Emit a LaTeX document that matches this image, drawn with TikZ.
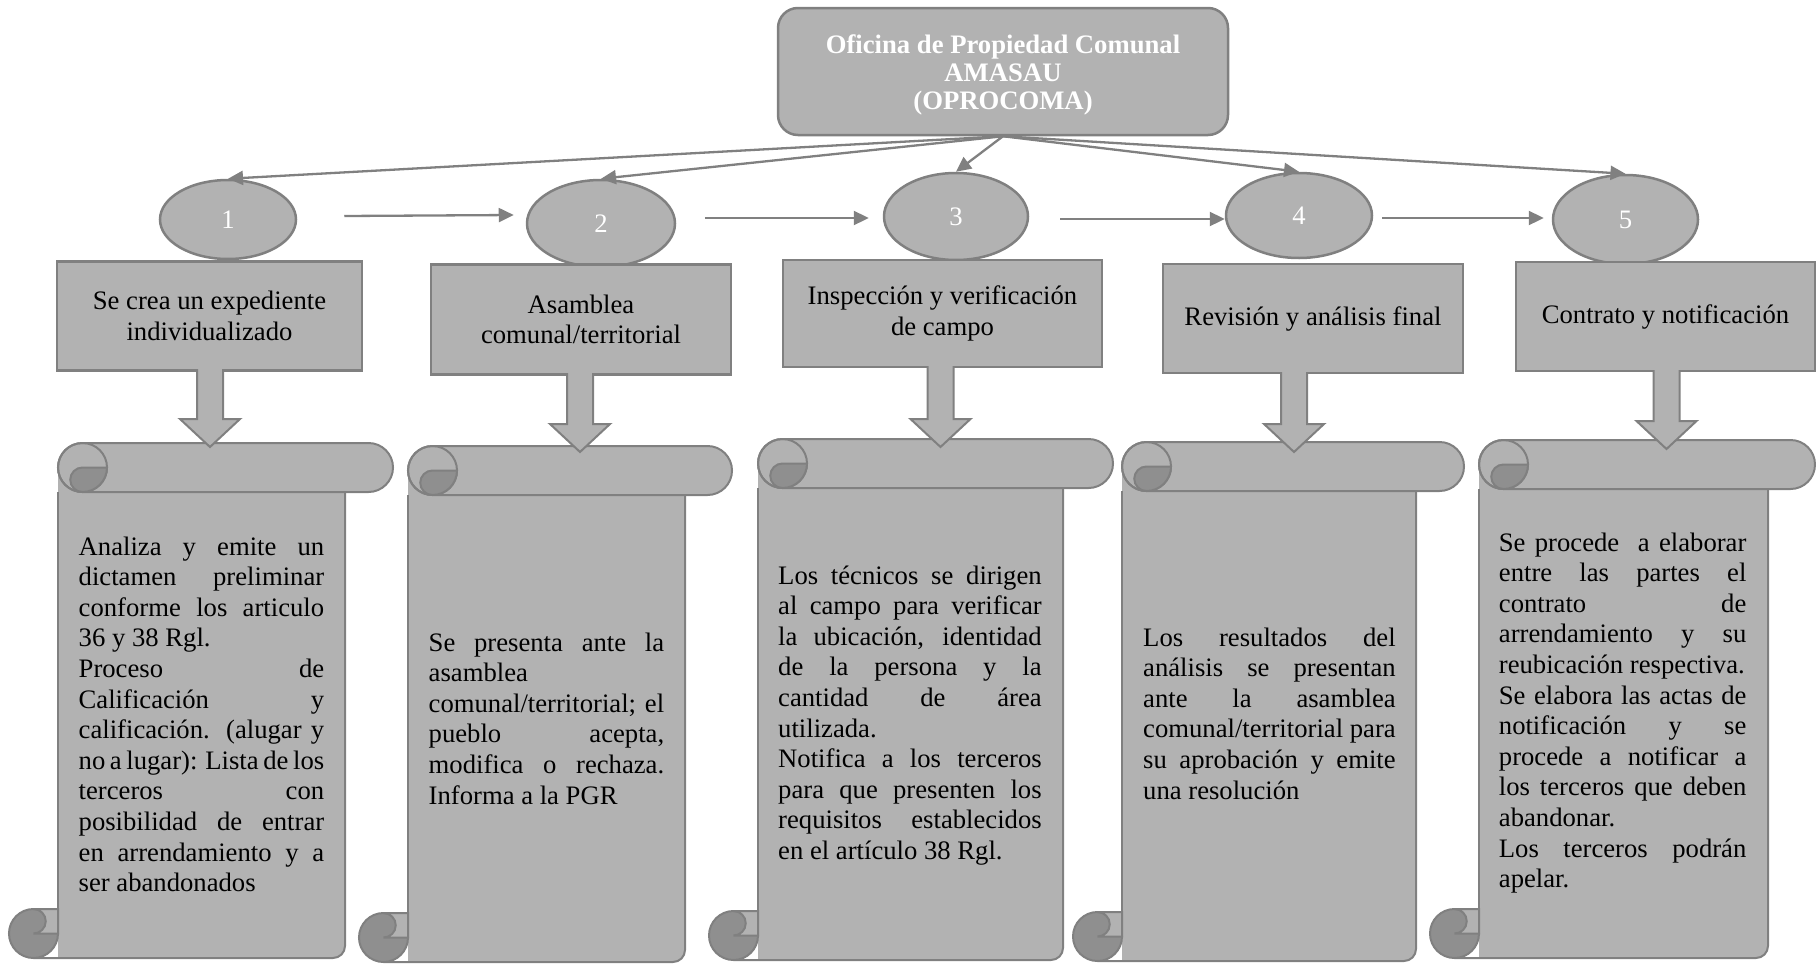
\documentclass[tikz,border=0pt]{standalone}
\usepackage{fontspec}
\setmainfont{Liberation Serif}
\usetikzlibrary{shapes.geometric,arrows.meta}
\definecolor{fillg}{RGB}{178,178,178}
\definecolor{lineg}{RGB}{128,128,128}
\definecolor{darkg}{RGB}{143,143,143}
\newlength\twid
\newcommand\jl[1]{\makebox[\twid][s]{#1}}
\newcommand\bodyfont{\fontsize{26.67}{30.6}\selectfont}
% scroll: #1 body left, #2 body right, #3 top, #4 bottom, #5 roll right
\newcommand\drawscroll[5]{%
  \fill[fillg] (#1,{#3+24.5}) -- (#1,#4) -- ({#2-12},#4) arc[start angle=90,end angle=0,radius=12] -- (#2,{#3+24.5}) -- cycle;
  \draw[sline] (#1,{#3+49}) -- (#1,{#4-24.5});
  \draw[sline] ({#1-24.5},#4) -- ({#2-12},#4) arc[start angle=90,end angle=0,radius=12] -- (#2,{#3+49});
  \filldraw[sline,fill=darkg] ({#1-24.5},{#4-24.5}) circle[radius=24.5];
  \filldraw[sline,fill=fillg] ({#1-24.5},{#4-49}) -- (#1,{#4-49}) -- (#1,{#4-24.5}) -- ({#1-24.5},{#4-24.5}) arc[start angle=90,end angle=-90,radius=12.25] -- cycle;
  \filldraw[sline,fill=fillg] ({#1+24.5},#3) -- ({#5-24.5},#3) arc[start angle=-90,end angle=90,radius=24.5] -- ({#1+24.5},{#3+49}) arc[start angle=90,end angle=270,radius=24.5] -- cycle;
  \draw[sline] ({#1+24.5},{#3+24.5}) circle[radius=24.5];
  \filldraw[sline,fill=darkg] ({#1+24.5},{#3+24.5}) -- ({#1+49},{#3+24.5}) arc[start angle=0,end angle=90,radius=24.5] arc[start angle=90,end angle=270,radius=12.25] -- cycle;
}
% block arrow: #1 x, #2 top, #3 head start, #4 tip
\newcommand\blockarrow[4]{%
  \filldraw[sline,fill=fillg] ({#1-13},#2) -- ({#1-13},#3) -- ({#1-30},#3) -- (#1,#4) -- ({#1+30},#3) -- ({#1+13},#3) -- ({#1+13},#2);
}
\tikzset{
  sline/.style={draw=lineg,line width=2pt},
  conn/.style={draw=lineg,line width=2.3pt,-{Triangle[length=15pt,width=14pt]}},
  stepbox/.style={rectangle,draw=lineg,fill=fillg,line width=2.5pt,inner sep=0pt,align=center,font=\bodyfont},
  numnode/.style={ellipse,draw=lineg,fill=fillg,line width=2.5pt,inner sep=0pt,text=white,font=\bodyfont},
  topbox/.style={rectangle,draw=lineg,fill=fillg,rounded corners=20pt,line width=2.5pt,inner sep=0pt},
  toptext/.style={inner sep=0pt,align=center,text=white,font={\bfseries\fontsize{26.67}{28.4}\selectfont}},
  scrolltext/.style={anchor=base west,inner sep=0pt,align=left,font=\bodyfont},
}
\begin{document}
\begin{tikzpicture}[x=1pt,y=-1pt]
\fill[white] (0,0) rectangle (1816,964);
\useasboundingbox (0,0) rectangle (1816,964);

% scrolls
\drawscroll{58}{345}{443}{958}{393}
\drawscroll{408}{685}{446}{962}{732}
\drawscroll{758}{1063}{439}{960}{1113}
\drawscroll{1122}{1416}{442}{961}{1464}
\drawscroll{1479}{1768}{440}{958}{1815}

% top box
\node[topbox,minimum width=450,minimum height=127] (top) at (1003,71.5) {};
\node[toptext] (toplabel) at (1003,75) {Oficina de Propiedad Comunal\\AMASAU\\(OPROCOMA)};

% numbered ellipses
\node[numnode,minimum width=136,minimum height=79] (c1) at (228,219.5) {1};
\node[numnode,minimum width=148,minimum height=87] (c2) at (601,223.5) {2};
\node[numnode,minimum width=144,minimum height=87] (c3) at (956,216.5) {3};
\node[numnode,minimum width=146,minimum height=85] (c4) at (1299,215.5) {4};
\node[numnode,minimum width=145,minimum height=89] (c5) at (1625.5,219.5) {5};

% step boxes
\node[stepbox,minimum width=305,minimum height=109] (b1) at (209.5,316) {Se crea un expediente\\individualizado};
\node[stepbox,minimum width=300,minimum height=110] (b2) at (581,319.5) {Asamblea\\comunal/territorial};
\node[stepbox,minimum width=319,minimum height=107] (b3) at (942.5,313.5) {Inspección y verificación\\de campo};
\node[stepbox,minimum width=300,minimum height=109] (b4) at (1313,318.5) {Revisión y análisis final};
\node[stepbox,minimum width=299,minimum height=109] (b5) at (1665.5,316.5) {Contrato y notificación};

% connectors from top box
\draw[conn] (top.south) -- (c1.north);
\draw[conn] (top.south) -- (c2.north);
\draw[conn] (top.south) -- (c3.north);
\draw[conn] (top.south) -- (c4.north);
\draw[conn] (top.south) -- (c5.north);

% horizontal arrows
\draw[conn] ([xshift=47pt,yshift=3.5pt]c1.east) -- ([xshift=-12pt,yshift=8.5pt]c2.west);
\draw[conn] ([xshift=28.5pt,yshift=5.5pt]c2.east) -- ([xshift=-14pt,yshift=-1.5pt]c3.west);
\draw[conn] ([xshift=31pt,yshift=-2.5pt]c3.east) -- ([yshift=-3.5pt]c4.west);
\draw[conn] ([xshift=9pt,yshift=-2.5pt]c4.east) -- ([xshift=-8pt,yshift=1.5pt]c5.west);

% block arrows
\blockarrow{210}{369}{419}{447}
\blockarrow{580}{373}{424}{452}
\blockarrow{940.5}{366}{419}{447}
\blockarrow{1294}{372}{424}{452}
\blockarrow{1666.5}{370}{421}{449}

% scroll texts (anchored at the baseline of the last line)
\setlength{\twid}{245.5pt}
\node[scrolltext] (t1) at (78.5,891.6) {\jl{Analiza y emite un}\\
\jl{dictamen preliminar}\\
\jl{conforme los articulo}\\
36 y 38 Rgl.\\
\jl{Proceso de}\\
\jl{Calificación y}\\
\jl{calificación. (alugar y}\\
\jl{no a lugar): Lista de los}\\
\jl{terceros con}\\
\jl{posibilidad de entrar}\\
\jl{en arrendamiento y a}\\
ser abandonados};

\setlength{\twid}{235.5pt}
\node[scrolltext] (t2) at (428.5,804) {\jl{Se presenta ante la}\\
asamblea\\
\jl{comunal/territorial; el}\\
\jl{pueblo acepta,}\\
\jl{modifica o rechaza.}\\
Informa a la PGR};

\setlength{\twid}{263.5pt}
\node[scrolltext] (t3) at (778,859.4) {\jl{Los técnicos se dirigen}\\
\jl{al campo para verificar}\\
\jl{la ubicación, identidad}\\
\jl{de la persona y la}\\
\jl{cantidad de área}\\
utilizada.\\
\jl{Notifica a los terceros}\\
\jl{para que presenten los}\\
\jl{requisitos establecidos}\\
en el artículo 38 Rgl.};

\setlength{\twid}{252.5pt}
\node[scrolltext] (t4) at (1143,799) {\jl{Los resultados del}\\
\jl{análisis se presentan}\\
\jl{ante la asamblea}\\
\jl{comunal/territorial para}\\
\jl{su aprobación y emite}\\
una resolución};

\setlength{\twid}{247.5pt}
\node[scrolltext] (t5) at (1498.7,887.6) {\jl{Se procede\ \ a elaborar}\\
\jl{entre las partes el}\\
\jl{contrato de}\\
\jl{arrendamiento y su}\\
reubicación respectiva.\\
\jl{Se elabora las actas de}\\
\jl{notificación y se}\\
\jl{procede a notificar a}\\
\jl{los terceros que deben}\\
abandonar.\\
\jl{Los terceros podrán}\\
apelar.};
\end{tikzpicture}
\end{document}
